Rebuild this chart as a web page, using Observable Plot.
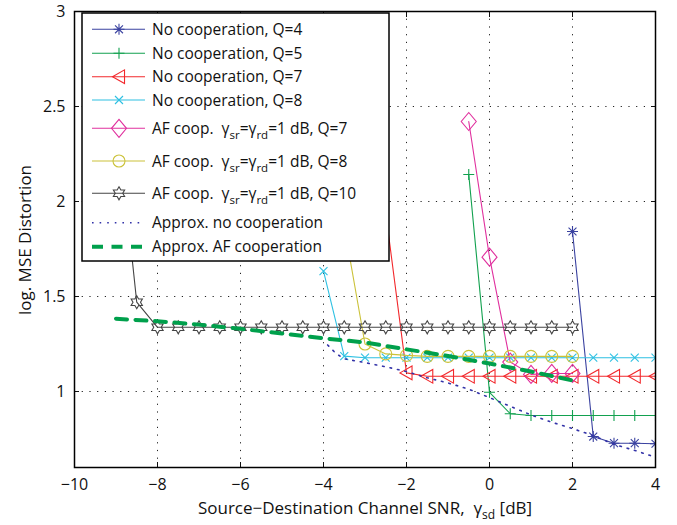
<!DOCTYPE html>
<html><head><meta charset="utf-8">
<script src="https://cdn.jsdelivr.net/npm/d3@7"></script>
<script src="https://cdn.jsdelivr.net/npm/@observablehq/plot@0.6"></script>
<style>body{margin:0;background:#fff;} #chart{width:677px;height:525px;}</style>
</head><body><div id="chart"></div>
<script>
// ---- data ----
const xTicks = [-10, -8, -6, -4, -2, 0, 2, 4];
const yTicks = [1, 1.5, 2, 2.5, 3];

const q4X = [2, 2.5, 3, 3.5, 4];
const q4Y = [1.842, 0.763, 0.728, 0.728, 0.725];

const q5X = [-0.5, 0, 0.5, 1, 1.5, 2, 2.5, 3, 3.5, 4];
const q5Y = [2.142, 0.996, 0.883, 0.874, 0.874, 0.874, 0.874, 0.874, 0.874, 0.874];

const q7X = [-3, -2, -1.5, -1, -0.5, 0, 0.5, 1, 1.5, 2, 2.5, 3, 3.5, 4];
const q7Y = [2.78, 1.098, 1.08, 1.08, 1.08, 1.08, 1.08, 1.08, 1.08, 1.08, 1.08, 1.08, 1.08, 1.08];

const q8X = [-4, -3.5, -3, -2.5, -2, -1.5, -1, -0.5, 0, 0.5, 1, 1.5, 2, 2.5, 3, 3.5, 4];
const q8Y = [1.633, 1.186, 1.178, 1.178, 1.178, 1.178, 1.178, 1.178, 1.178, 1.178, 1.178, 1.178, 1.178, 1.178, 1.178, 1.178, 1.178];

const af7X = [-0.5, 0, 0.5, 1, 1.5, 2];
const af7Y = [2.421, 1.707, 1.155, 1.09, 1.095, 1.095];

const af8X = [-3.5, -3, -2.5, -2, -1.5, -1, -0.5, 0, 0.5, 1, 1.5, 2];
const af8Y = [1.87, 1.25, 1.198, 1.19, 1.185, 1.185, 1.185, 1.185, 1.185, 1.185, 1.185, 1.185];

const af10X = [-9, -8.5, -8, -7.5, -7, -6.5, -6, -5.5, -5, -4.5, -4, -3.5, -3, -2.5, -2, -1.5, -1, -0.5, 0, 0.5, 1, 1.5, 2];
const af10Y = [2.5, 1.47, 1.338, 1.338, 1.338, 1.338, 1.338, 1.338, 1.338, 1.338, 1.338, 1.338, 1.338, 1.338, 1.338, 1.338, 1.338, 1.338, 1.338, 1.338, 1.338, 1.338, 1.338];

const apNoX = [-3.9, -3.7, -3.5, -3, -2.5, -2, -1.5, -1, -0.5, 0, 0.5, 1, 1.5, 2, 2.5, 3, 3.5, 4];
const apNoY = [1.245, 1.2, 1.172, 1.152, 1.13, 1.105, 1.072, 1.045, 1.012, 0.968, 0.922, 0.877, 0.838, 0.805, 0.768, 0.722, 0.69, 0.654];

const apAfX = [-9, -8, -7, -6, -5, -4, -3, -2, -1, 0, 1, 2];
const apAfY = [1.383, 1.37, 1.352, 1.33, 1.305, 1.28, 1.258, 1.222, 1.187, 1.147, 1.105, 1.058];

const labels = [
  "No cooperation, Q=4", "No cooperation, Q=5", "No cooperation, Q=7", "No cooperation, Q=8",
  "AF coop.", "AF coop.", "AF coop.", "Approx. no cooperation", "Approx. AF cooperation"
];
const afQ = ["Q=7", "Q=8", "Q=10"];

// ---- custom symbols ----
const rOf = s => Math.sqrt(s / Math.PI);
const sym = {
  asterisk: {draw(c, s) { const r = rOf(s), d = r * 0.72;
    c.moveTo(-r, 0); c.lineTo(r, 0); c.moveTo(0, -r); c.lineTo(0, r);
    c.moveTo(-d, -d); c.lineTo(d, d); c.moveTo(-d, d); c.lineTo(d, -d); }},
  plus: {draw(c, s) { const r = rOf(s); c.moveTo(-r, 0); c.lineTo(r, 0); c.moveTo(0, -r); c.lineTo(0, r); }},
  times: {draw(c, s) { const r = rOf(s); c.moveTo(-r, -r); c.lineTo(r, r); c.moveTo(-r, r); c.lineTo(r, -r); }},
  triLeft: {draw(c, s) { const r = rOf(s); c.moveTo(-r, 0); c.lineTo(r * 0.85, -r * 1.05); c.lineTo(r * 0.85, r * 1.05); c.closePath(); }},
  diamond: {draw(c, s) { const r = rOf(s); c.moveTo(0, -r * 1.2); c.lineTo(r, 0); c.lineTo(0, r * 1.2); c.lineTo(-r, 0); c.closePath(); }},
  circle: {draw(c, s) { const r = rOf(s); c.moveTo(r, 0); c.arc(0, 0, r, 0, 2 * Math.PI); }},
  hexagram: {draw(c, s) { const R = rOf(s), ri = R / Math.sqrt(3);
    for (let i = 0; i < 12; i++) { const a = -Math.PI / 2 + i * Math.PI / 6, rr = i % 2 ? ri : R;
      const x = rr * Math.cos(a), y = rr * Math.sin(a); if (i) c.lineTo(x, y); else c.moveTo(x, y); }
    c.closePath(); }}
};

const series = [
  {x: q4X, y: q4Y, color: "#3a42a0", sym: sym.asterisk, r: 5.5},
  {x: q5X, y: q5Y, color: "#12a14f", sym: sym.plus, r: 5.5},
  {x: q7X, y: q7Y, color: "#f2282c", sym: sym.triLeft, r: 6.5},
  {x: q8X, y: q8Y, color: "#2ec0e2", sym: sym.times, r: 4},
  {x: af7X, y: af7Y, color: "#e0309e", sym: sym.diamond, r: 7.5},
  {x: af8X, y: af8Y, color: "#cbc23a", sym: sym.circle, r: 6},
  {x: af10X, y: af10Y, color: "#444444", sym: sym.hexagram, r: 6.5}
];

const marks = [
  Plot.gridX(xTicks.slice(1, -1), {stroke: "#222", strokeOpacity: 1, strokeDasharray: "1.2,6.5", strokeWidth: 1}),
  Plot.gridY(yTicks.slice(0, -1), {stroke: "#222", strokeOpacity: 1, strokeDasharray: "1.2,6.5", strokeWidth: 1}),
];
for (const s of series) {
  const rows = s.x.map((x, i) => ({x, y: s.y[i]}));
  marks.push(Plot.line(rows, {x: "x", y: "y", stroke: s.color, strokeWidth: 1.1, clip: true}));
  marks.push(Plot.dot(rows, {x: "x", y: "y", stroke: s.color, fill: "none", symbol: s.sym, r: s.r, strokeWidth: 1.1, clip: true}));
}
marks.push(Plot.line(apNoX.map((x, i) => ({x, y: apNoY[i]})), {x: "x", y: "y", stroke: "#3333a8", strokeWidth: 1.6, strokeDasharray: "1.6,6", clip: true}));
marks.push(Plot.line(apAfX.map((x, i) => ({x, y: apAfY[i]})), {x: "x", y: "y", stroke: "#00a04c", strokeWidth: 4, strokeDasharray: "11,8.5", clip: true}));
marks.push(
  Plot.axisX(xTicks, {tickSize: 0, tickPadding: 11, fontSize: 16, label: null}),
  Plot.axisY(yTicks, {tickSize: 0, tickPadding: 9, fontSize: 16, label: null, tickFormat: d => String(d)}),
  Plot.axisX(xTicks, {anchor: "bottom", tickSize: -5, text: null, label: null}),
  Plot.axisX(xTicks, {anchor: "top", tickSize: -5, text: null, label: null}),
  Plot.axisY(yTicks, {anchor: "left", tickSize: -5, text: null, label: null}),
  Plot.axisY(yTicks, {anchor: "right", tickSize: -5, text: null, label: null}),
  Plot.frame({stroke: "#000", strokeWidth: 1.5})
);

const chart = Plot.plot({
  width: 677, height: 525,
  marginLeft: 74, marginRight: 22, marginTop: 11, marginBottom: 58,
  style: {fontFamily: "'Open Sans', sans-serif", color: "#111", background: "#fff"},
  x: {domain: [-10, 4]},
  y: {domain: [0.6, 3]},
  marks
});
document.getElementById("chart").appendChild(chart);

// ---- axis titles and legend ----
const svg = d3.select(chart);
const FF = "'Open Sans', sans-serif";
const xl = svg.append("text").attr("x", 365).attr("y", 514).attr("text-anchor", "middle")
  .attr("font-family", FF).attr("font-size", 17).attr("fill", "#111").style("white-space", "pre");
xl.append("tspan").text("Source\u2212Destination Channel SNR,  \u03b3");
xl.append("tspan").attr("font-size", 12).attr("dy", 5).text("sd");
xl.append("tspan").attr("dy", -5).text(" [dB]");
svg.append("text").attr("transform", "translate(31,240) rotate(-90)").attr("text-anchor", "middle")
  .attr("font-family", FF).attr("font-size", 17).attr("fill", "#111").text("log. MSE Distortion");

const lg = svg.append("g").attr("text-anchor", "start");
lg.append("rect").attr("x", 82).attr("y", 13).attr("width", 307).attr("height", 248)
  .attr("fill", "#fff").attr("stroke", "#000").attr("stroke-width", 1.5);
const rowY = [29.3, 53.3, 76.7, 100, 128.3, 161, 193.3, 222.7, 246.7];
const allStyles = [...series,
  {color: "#3333a8", dash: "1.6,6", w: 1.6},
  {color: "#00a04c", dash: "11,8.5", w: 4}];
allStyles.forEach((s, i) => {
  const y = rowY[i];
  lg.append("line").attr("x1", 92).attr("x2", 145).attr("y1", y).attr("y2", y)
    .attr("stroke", s.color).attr("stroke-width", s.w || 1.1).attr("stroke-dasharray", s.dash || null);
  if (s.sym) lg.append("path").attr("transform", `translate(119,${y})`)
    .attr("d", d3.symbol(s.sym, Math.PI * s.r * s.r)()).attr("fill", "none").attr("stroke", s.color).attr("stroke-width", 1.1);
  const t = lg.append("text").attr("x", 152).attr("y", y + 5.5).attr("text-anchor", "start")
    .attr("font-family", FF).attr("font-size", 15.5).attr("fill", "#111").style("white-space", "pre");
  if (i >= 4 && i <= 6) {
    t.append("tspan").text("AF coop.  \u03b3");
    t.append("tspan").attr("font-size", 11.5).attr("dy", 5).text("sr");
    t.append("tspan").attr("dy", -5).text("=\u03b3");
    t.append("tspan").attr("font-size", 11.5).attr("dy", 5).text("rd");
    t.append("tspan").attr("dy", -5).text("=1 dB, " + afQ[i - 4]);
  } else {
    t.text(labels[i]);
  }
});
</script>
</body></html>
